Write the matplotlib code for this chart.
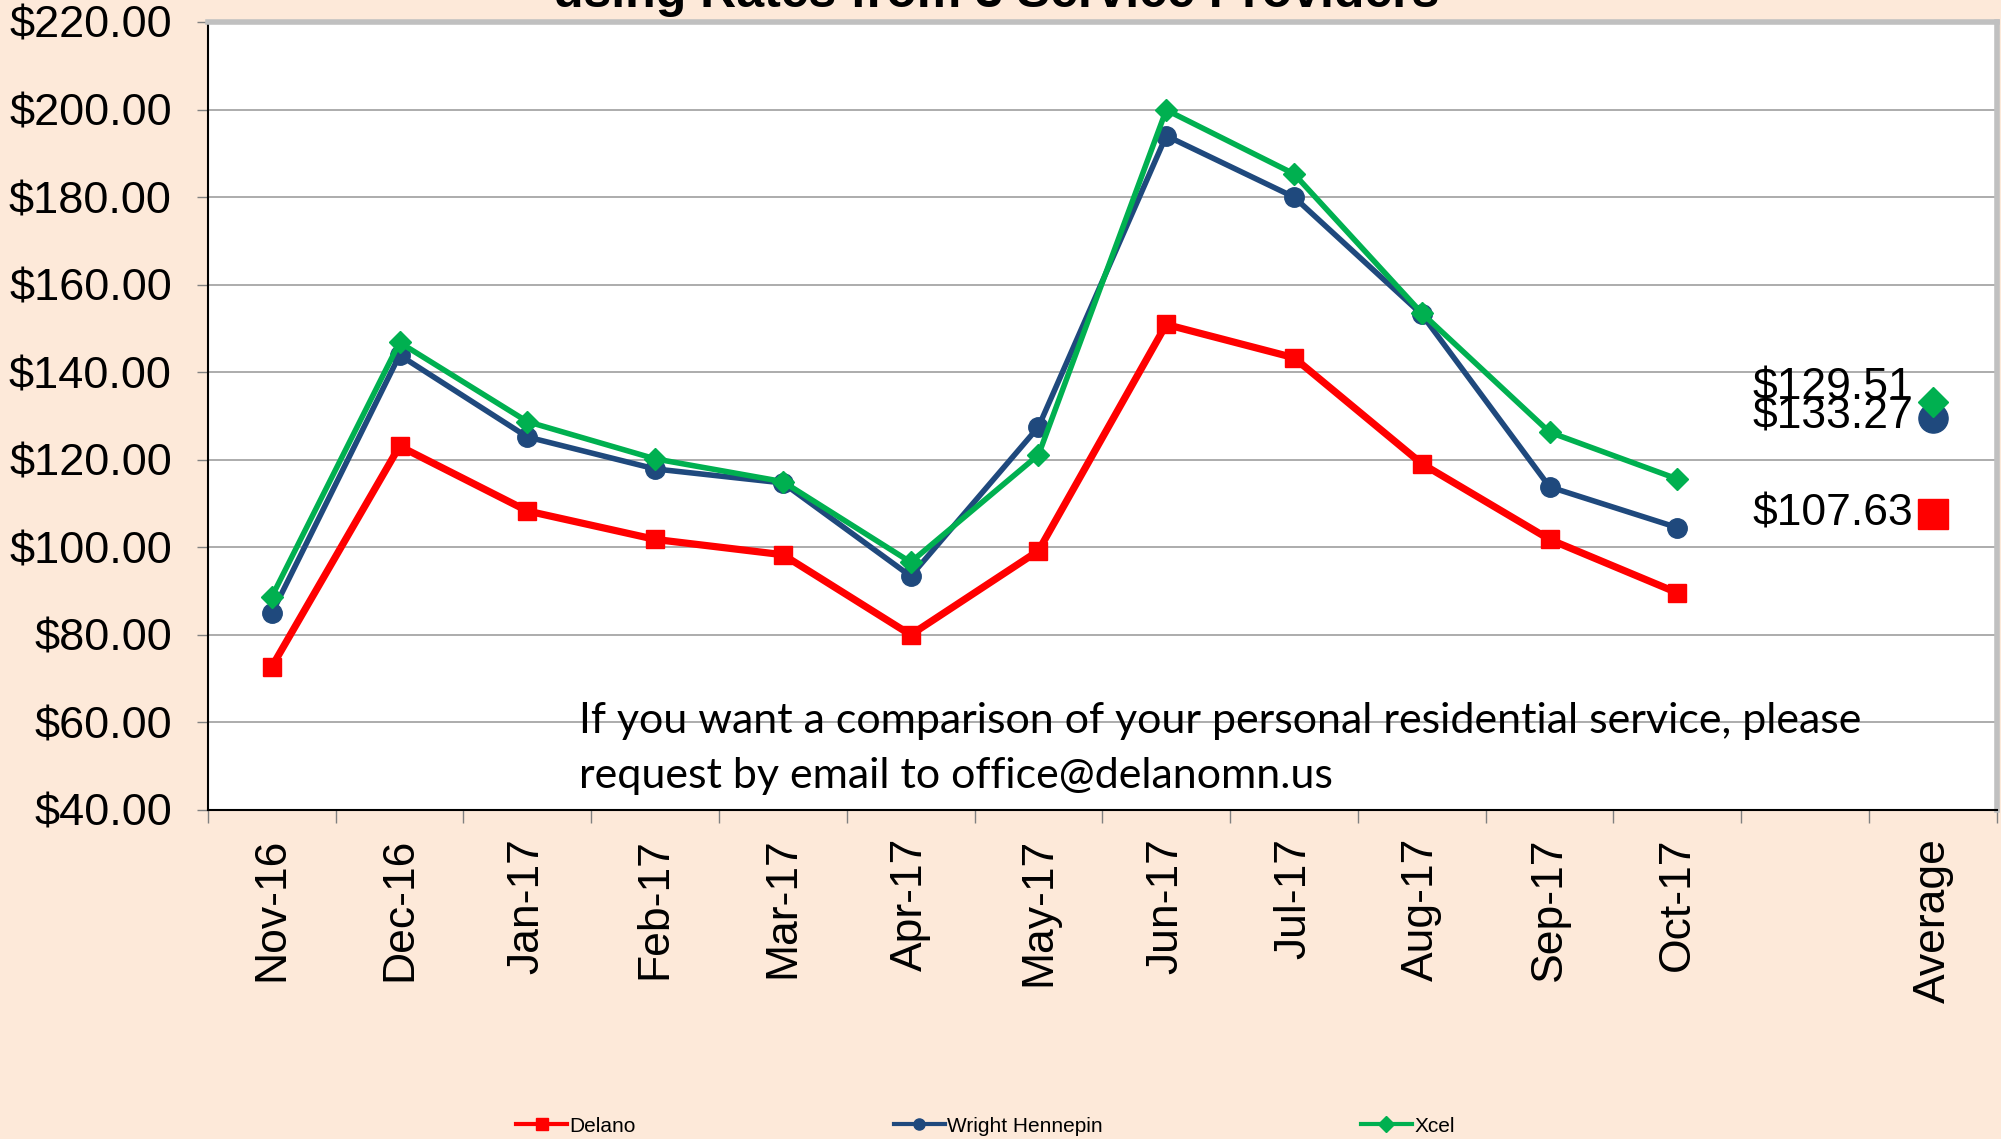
import numpy as np
import matplotlib.pyplot as plt
from matplotlib.lines import Line2D
from matplotlib.ticker import FuncFormatter

plt.rcParams['font.family'] = ['Liberation Sans', 'DejaVu Sans']

# Data
months = ["Nov-16", "Dec-16", "Jan-17", "Feb-17", "Mar-17", "Apr-17",
          "May-17", "Jun-17", "Jul-17", "Aug-17", "Sep-17", "Oct-17"]
x_labels = months + ["", "Average"]

delano = [72.7, 123.1, 108.3, 101.8, 98.3, 80.0, 99.2, 150.9, 143.3, 119.1, 101.8, 89.6]
wright = [84.9, 143.9, 125.2, 117.9, 114.7, 93.4, 127.5, 194.0, 180.0, 153.2, 113.8, 104.5]
xcel = [88.7, 146.8, 128.7, 120.2, 115.0, 96.6, 121.1, 199.9, 185.3, 153.5, 126.3, 115.6]

series_names = ["Delano", "Wright Hennepin", "Xcel"]
averages = [107.63, 129.51, 133.27]

colors = ["#FF0000", "#1F497D", "#00B050"]
markers = ["s", "o", "D"]
line_ms = [13, 14, 11]
avg_ms = [21, 21, 15]
line_w = [5.2, 4.0, 4.0]
# label offsets (points) next to the average markers
label_dy = [0, 22, -11]

bg = "#FDE9D9"

fig = plt.figure(figsize=(20.01, 11.39), dpi=100)
fig.patch.set_facecolor(bg)
ax = fig.add_axes([0.1039, 0.2889, 0.894, 0.6918])
ax.set_facecolor("white")

x = np.arange(len(months))
for vals, c, m, ms, lw in zip([delano, wright, xcel], colors, markers, line_ms, line_w):
    ax.plot(x, vals, color=c, marker=m, markersize=ms, linewidth=lw, zorder=3)

avg_x = len(x_labels) - 1
for v, c, m, ms, dy in zip(averages, colors, markers, avg_ms, label_dy):
    ax.plot([avg_x], [v], linestyle="none", marker=m, markersize=ms, color=c, zorder=4)
    ax.annotate(f"${v:.2f}", (avg_x, v), xytext=(-14, dy), textcoords="offset points",
                ha="right", va="center", fontsize=32, zorder=5)

ax.set_xlim(-0.5, len(x_labels) - 0.5)
ax.set_ylim(40, 220)
ax.set_yticks(np.arange(40, 221, 20))
ax.yaxis.set_major_formatter(FuncFormatter(lambda v, p: f"${v:.2f}"))
ax.grid(axis="y", color="#A6A6A6", linewidth=1.3, zorder=0)
ax.set_axisbelow(True)

ax.set_xticks(np.arange(len(x_labels)))
ax.set_xticklabels(x_labels, rotation=90)
ax.set_xticks(np.arange(-0.5, len(x_labels), 1), minor=True)
ax.tick_params(axis="x", which="major", length=0, pad=20, labelsize=32)
ax.tick_params(axis="x", which="minor", length=9, color="#808080", width=1)
ax.tick_params(axis="y", length=8, color="#808080", width=1, pad=18, labelsize=32.5)

for side in ["top", "right"]:
    ax.spines[side].set_color("#C0C0C0")
    ax.spines[side].set_linewidth(4)
for side in ["left", "bottom"]:
    ax.spines[side].set_color("black")
    ax.spines[side].set_linewidth(1.5)

# title (partly cut off at the top of the image)
fig.text(0.498, 0.9939, "using Rates from 3 Service Providers", ha="center",
         va="baseline", fontsize=36, fontweight="bold")

fig.text(0.2894, 0.343,
         "If you want a comparison of your personal residential service, please\n"
         "request by email to office@delanomn.us",
         ha="left", va="center", fontsize=31, family=["Lato", "DejaVu Sans"],
         linespacing=1.55)

handles = [Line2D([], [], color=c, marker=m, markersize=8, linewidth=3)
           for c, m in zip(colors, markers)]
fig.legend(handles, series_names, loc="center left", bbox_to_anchor=(516 / 2001, 0.0114),
           ncol=3, frameon=False, fontsize=15, handlelength=2.45, handletextpad=0.1,
           columnspacing=12.4, borderpad=0, borderaxespad=0)

fig.savefig("out.png", dpi=100, facecolor=bg)
